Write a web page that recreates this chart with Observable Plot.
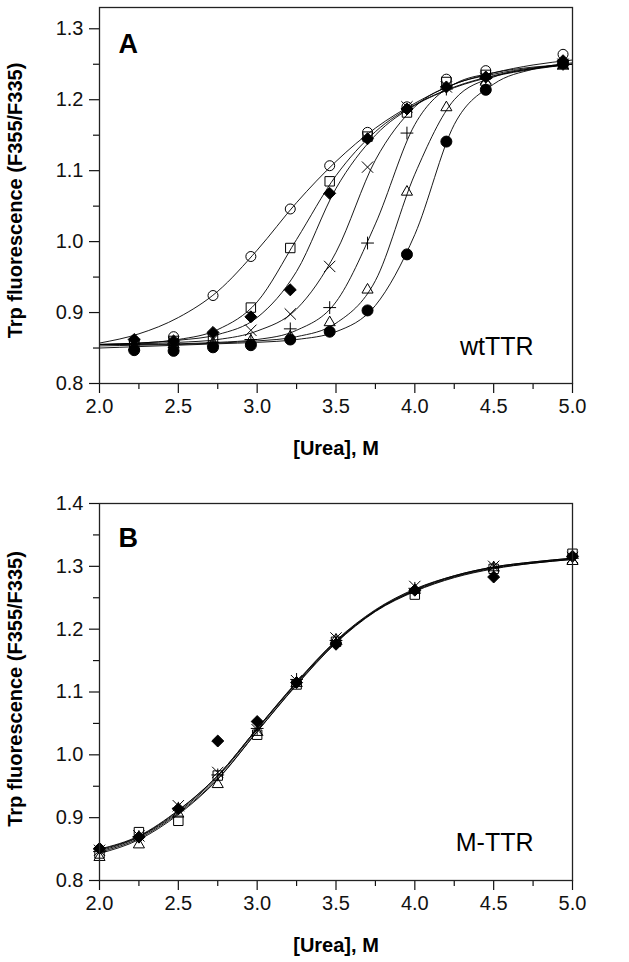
<!DOCTYPE html>
<html>
<head>
<meta charset="utf-8">
<script src="https://cdn.jsdelivr.net/npm/d3@7"></script>
<script src="https://cdn.jsdelivr.net/npm/@observablehq/plot@0.6"></script>
<style>
  html, body { margin: 0; padding: 0; background: white; }
  #chart { width: 629px; }
  #chart svg { display: block; }
</style>
</head>
<body>
<div id="chart"></div>
<script>
// ---------- Panel A (wtTTR) ----------
const aX = [2.22, 2.47, 2.72, 2.96, 3.21, 3.46, 3.70, 3.95, 4.20, 4.45, 4.94];
const aOpenCircle   = [0.860, 0.866, 0.924, 0.979, 1.046, 1.107, 1.154, 1.190, 1.229, 1.241, 1.264];
const aOpenSquare   = [0.855, 0.860, 0.865, 0.907, 0.991, 1.085, 1.148, 1.182, 1.225, 1.235, 1.250];
const aFilledDiam   = [0.862, 0.860, 0.872, 0.894, 0.932, 1.068, 1.145, 1.187, 1.218, 1.232, 1.255];
const aTimes        = [0.855, 0.858, 0.862, 0.875, 0.898, 0.965, 1.105, 1.190, 1.218, 1.230, 1.250];
const aPlus         = [0.856, 0.856, 0.858, 0.862, 0.877, 0.907, 0.998, 1.153, 1.215, 1.230, 1.250];
const aOpenTri      = [0.852, 0.855, 0.857, 0.860, 0.866, 0.886, 0.932, 1.070, 1.189, 1.225, 1.248];
const aFilledCircle = [0.847, 0.846, 0.851, 0.854, 0.862, 0.873, 0.903, 0.982, 1.141, 1.214, 1.251];

// fitted curves, read at these urea values
const fitX = [2.0, 2.25, 2.5, 2.75, 3.0, 3.25, 3.5, 3.75, 4.0, 4.25, 4.5, 4.75, 5.0];
const aFitOpenCircle   = [0.857, 0.870, 0.893, 0.930, 0.988, 1.055, 1.113, 1.160, 1.195, 1.222, 1.238, 1.249, 1.256];
const aFitOpenSquare   = [0.855, 0.857, 0.862, 0.876, 0.915, 1.003, 1.093, 1.155, 1.193, 1.218, 1.234, 1.244, 1.250];
const aFitFilledDiam   = [0.855, 0.857, 0.861, 0.869, 0.893, 0.958, 1.075, 1.150, 1.192, 1.217, 1.233, 1.243, 1.250];
const aFitTimes        = [0.855, 0.856, 0.858, 0.862, 0.874, 0.905, 0.985, 1.115, 1.190, 1.222, 1.236, 1.245, 1.250];
const aFitPlus         = [0.855, 0.855, 0.856, 0.858, 0.862, 0.875, 0.915, 1.025, 1.165, 1.222, 1.238, 1.246, 1.250];
const aFitOpenTri      = [0.853, 0.854, 0.855, 0.857, 0.860, 0.866, 0.885, 0.945, 1.095, 1.200, 1.232, 1.244, 1.250];
const aFitFilledCircle = [0.850, 0.852, 0.854, 0.856, 0.858, 0.862, 0.873, 0.910, 1.010, 1.165, 1.222, 1.243, 1.252];

// ---------- Panel B (M-TTR) ----------
const bX = [2.0, 2.25, 2.5, 2.75, 3.0, 3.25, 3.5, 4.0, 4.5, 5.0];
const bFilledDiam = [0.851, 0.869, 0.914, 1.022, 1.053, 1.115, 1.176, 1.262, 1.283, 1.316];
const bOpenSquare = [0.843, 0.877, 0.895, 0.967, 1.032, 1.112, 1.180, 1.255, 1.296, 1.320];
const bOpenTri    = [0.837, 0.857, 0.906, 0.953, 1.036, 1.114, 1.183, 1.262, 1.298, 1.308];
const bTimes      = [0.848, 0.871, 0.919, 0.972, 1.040, 1.118, 1.186, 1.268, 1.300, 1.314];
const bPlus       = [0.846, 0.870, 0.915, 0.968, 1.042, 1.120, 1.182, 1.265, 1.298, 1.313];

const bFitFilledDiam = [0.850, 0.871, 0.912, 0.967, 1.042, 1.116, 1.182, 1.231, 1.264, 1.285, 1.299, 1.307, 1.313];
const bFitOpenSquare = [0.845, 0.867, 0.907, 0.962, 1.037, 1.111, 1.178, 1.228, 1.260, 1.282, 1.296, 1.305, 1.311];
const bFitOpenTri    = [0.843, 0.865, 0.905, 0.961, 1.037, 1.112, 1.179, 1.229, 1.261, 1.283, 1.297, 1.305, 1.311];
const bFitTimes      = [0.849, 0.870, 0.911, 0.967, 1.042, 1.115, 1.181, 1.230, 1.263, 1.285, 1.299, 1.307, 1.313];
const bFitPlus       = [0.847, 0.869, 0.909, 0.965, 1.040, 1.114, 1.180, 1.229, 1.262, 1.284, 1.298, 1.306, 1.312];

// ---------- ticks and labels ----------
const xMajor = [2.0, 2.5, 3.0, 3.5, 4.0, 4.5, 5.0];
const xMinor = [2.25, 2.75, 3.25, 3.75, 4.25, 4.75];
const aYMajor = [0.8, 0.9, 1.0, 1.1, 1.2, 1.3];
const aYMinor = [0.85, 0.95, 1.05, 1.15, 1.25];
const bYMajor = [0.8, 0.9, 1.0, 1.1, 1.2, 1.3, 1.4];
const bYMinor = [0.85, 0.95, 1.05, 1.15, 1.25, 1.35];
const xTitle = "[Urea], M";
const yTitle = "Trp fluorescence (F355/F335)";

// marker styles per series
const markerStyle = {
  openCircle:   {symbol: "circle",    fill: "none",  stroke: "black", r: 5},
  openSquare:   {symbol: "square2",   fill: "none",  stroke: "black", r: 6},
  filledDiam:   {symbol: "diamond2",  fill: "black", stroke: "black", r: 5.4},
  times:        {symbol: "times",     fill: "none",  stroke: "black", r: 5.2},
  plus:         {symbol: "plus",      fill: "none",  stroke: "black", r: 4.2},
  openTri:      {symbol: "triangle2", fill: "none",  stroke: "black", r: 5.3},
  filledCircle: {symbol: "circle",    fill: "black", stroke: "black", r: 5.5}
};

function zipPts(xs, ys, s) { return xs.map((x, i) => ({x, y: ys[i], s})); }

const aPoints = {
  openCircle: zipPts(aX, aOpenCircle, "openCircle"),
  openSquare: zipPts(aX, aOpenSquare, "openSquare"),
  filledDiam: zipPts(aX, aFilledDiam, "filledDiam"),
  times: zipPts(aX, aTimes, "times"),
  plus: zipPts(aX, aPlus, "plus"),
  openTri: zipPts(aX, aOpenTri, "openTri"),
  filledCircle: zipPts(aX, aFilledCircle, "filledCircle")
};
const aFits = [].concat(
  zipPts(fitX, aFitOpenCircle, "openCircle"),
  zipPts(fitX, aFitOpenSquare, "openSquare"),
  zipPts(fitX, aFitFilledDiam, "filledDiam"),
  zipPts(fitX, aFitTimes, "times"),
  zipPts(fitX, aFitPlus, "plus"),
  zipPts(fitX, aFitOpenTri, "openTri"),
  zipPts(fitX, aFitFilledCircle, "filledCircle")
);
const bPoints = {
  openSquare: zipPts(bX, bOpenSquare, "openSquare"),
  openTri: zipPts(bX, bOpenTri, "openTri"),
  times: zipPts(bX, bTimes, "times"),
  plus: zipPts(bX, bPlus, "plus"),
  filledDiam: zipPts(bX, bFilledDiam, "filledDiam")
};
const bFits = [].concat(
  zipPts(fitX, bFitFilledDiam, "filledDiam"),
  zipPts(fitX, bFitOpenSquare, "openSquare"),
  zipPts(fitX, bFitOpenTri, "openTri"),
  zipPts(fitX, bFitTimes, "times"),
  zipPts(fitX, bFitPlus, "plus")
);

const FONT = "'Liberation Sans', Arial, Helvetica, sans-serif";

function panel({height, marginTop, marginBottom, yDomain, yMajor, yMinor, points, fits, letter, letterDy, name, nameDy, xTitleDy, yTitleDy}) {
  const marks = [
    Plot.axisX({ticks: xMajor, tickSize: 10, tickPadding: 5, tickFormat: d3.format(".1f"), label: null, strokeWidth: 1.2}),
    Plot.axisX({ticks: xMinor, tickSize: 6, tickFormat: () => "", label: null, strokeWidth: 1.2}),
    Plot.axisY({ticks: yMajor, tickSize: 10, tickPadding: 6, tickFormat: d3.format(".1f"), label: null, strokeWidth: 1.2}),
    Plot.axisY({ticks: yMinor, tickSize: 6, tickFormat: () => "", label: null, strokeWidth: 1.2}),
    Plot.line(fits, {x: "x", y: "y", z: "s", curve: "monotone-x", stroke: "black", strokeWidth: 0.9}),
  ];
  for (const key of Object.keys(points)) {
    const st = markerStyle[key];
    marks.push(Plot.dot(points[key], {x: "x", y: "y", symbol: () => st.symbol, r: st.r, fill: st.fill, stroke: st.stroke, strokeWidth: 1}));
  }
  marks.push(
    Plot.frame({stroke: "#222", strokeWidth: 1.3}),
    Plot.text([letter], {text: d => d, frameAnchor: "top-left", dx: 19, dy: letterDy, lineAnchor: "top", textAnchor: "start", fontSize: 27, fontWeight: "bold", fill: "black"}),
    Plot.text([name], {text: d => d, frameAnchor: "bottom-right", dx: -39, dy: nameDy, lineAnchor: "bottom", textAnchor: "end", fontSize: 25, fill: "black"}),
    Plot.text([xTitle], {text: d => d, frameAnchor: "bottom", dy: xTitleDy, lineAnchor: "bottom", textAnchor: "middle", fontSize: 20, fontWeight: "bold", fill: "black"}),
    Plot.text([yTitle], {text: d => d, frameAnchor: "left", dx: -78, dy: yTitleDy, rotate: -90, lineAnchor: "bottom", textAnchor: "middle", fontSize: 20, fontWeight: "bold", fill: "black"})
  );
  return Plot.plot({
    width: 629,
    height,
    marginTop,
    marginBottom,
    marginLeft: 99,
    marginRight: 57,
    x: {domain: [2, 5]},
    y: {domain: yDomain},
    symbol: {type: "identity"},
    style: {fontFamily: FONT, fontSize: "20px", color: "#111", background: "white", overflow: "visible"},
    marks
  });
}

const chart = document.getElementById("chart");
chart.appendChild(panel({
  height: 470, marginTop: 7, marginBottom: 87,
  yDomain: [0.8, 1.33], yMajor: aYMajor, yMinor: aYMinor,
  points: aPoints, fits: aFits, letter: "A", letterDy: 26,
  name: "wtTTR", nameDy: -29, xTitleDy: 71, yTitleDy: 5
}));
chart.appendChild(panel({
  height: 492, marginTop: 33, marginBottom: 82,
  yDomain: [0.8, 1.4], yMajor: bYMajor, yMinor: bYMinor,
  points: bPoints, fits: bFits, letter: "B", letterDy: 24,
  name: "M-TTR", nameDy: -30, xTitleDy: 71, yTitleDy: -3
}));
</script>
</body>
</html>
